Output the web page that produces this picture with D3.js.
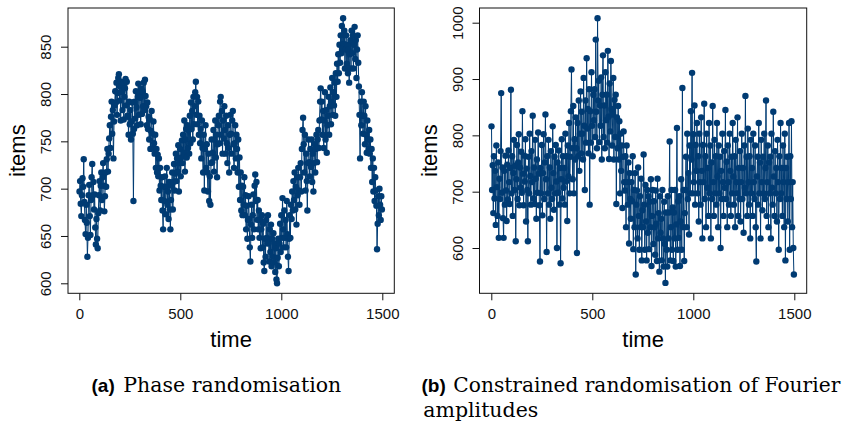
<!DOCTYPE html>
<html>
<head>
<meta charset="utf-8">
<script src="https://cdn.jsdelivr.net/npm/d3@7"></script>
<style>
  body { margin: 0; background: #fff; }
  svg { display: block; font-family: "Liberation Sans", Arial, Helvetica, sans-serif; }
  .serif { font-family: "DejaVu Serif", "Liberation Serif", serif; }
</style>
</head>
<body>
<svg width="843" height="423"></svg>
<script>
// sampled every 3 time steps, starting at t = 1
const timeStep = 3;

// (a) phase randomisation
const phaseItems = [
  697, 708, 684, 671, 693, 711, 702, 731, 686, 667,
  652, 683, 664, 628, 648, 693, 704, 671, 651, 688,
  712, 726, 693, 707, 678, 694, 659, 641, 668, 647,
  637, 674, 693, 708, 677, 703, 717, 688, 712, 727,
  703, 676, 692, 717, 702, 731, 742, 718, 737, 753,
  767, 743, 776, 792, 758, 783, 732, 771, 788, 803,
  791, 812, 778, 801, 817, 821, 793, 808, 772, 813,
  802, 783, 811, 773, 797, 806, 816, 788, 813, 777,
  776, 757, 792, 768, 783, 752, 771, 791, 758, 687,
  763, 792, 774, 803, 786, 767, 797, 811, 778, 802,
  796, 768, 806, 779, 803, 787, 812, 783, 815, 798,
  787, 767, 791, 763, 776, 752, 773, 742, 761, 782,
  758, 743, 771, 748, 737, 757, 722, 742, 717, 736,
  713, 732, 698, 722, 703, 688, 712, 677, 657, 702,
  687, 713, 673, 702, 722, 683, 697, 668, 707, 678,
  657, 688, 703, 717, 678, 707, 726, 698, 716, 737,
  708, 732, 718, 746, 697, 727, 742, 713, 733, 751,
  727, 757, 738, 772, 718, 752, 763, 733, 767, 743,
  762, 737, 777, 748, 791, 763, 782, 752, 797, 768,
  787, 802, 813, 778, 797, 768, 792, 757, 777, 748,
  763, 732, 772, 743, 717, 757, 698, 742, 767, 722,
  747, 717, 697, 737, 687, 713, 683, 727, 752, 728,
  738, 762, 718, 752, 772, 733, 757, 712, 747, 767,
  777, 748, 792, 797, 757, 782, 737, 772, 753, 787,
  762, 737, 777, 748, 727, 767, 743, 717, 757, 778,
  758, 737, 772, 782, 747, 722, 748, 767, 732, 757,
  742, 717, 752, 702, 733, 688, 717, 677, 703, 672,
  702, 683, 712, 672, 693, 657, 682, 647, 667, 692,
  668, 638, 623, 662, 683, 648, 672, 694, 657, 703,
  715, 687, 707, 667, 688, 657, 677, 648, 667, 637,
  657, 672, 638, 663, 622, 613, 647, 628, 667, 648,
  642, 672, 643, 623, 657, 633, 662, 618, 647, 628,
  653, 622, 642, 612, 637, 604, 600, 627, 647, 618,
  642, 663, 633, 672, 648, 690, 657, 638, 677, 648,
  667, 638, 687, 652, 628, 613, 647, 672, 648, 683,
  668, 697, 677, 708, 688, 717, 678, 702, 662, 712,
  693, 722, 698, 683, 712, 727, 697, 742, 762, 775,
  747, 717, 757, 698, 737, 708, 677, 727, 752, 728,
  713, 742, 723, 752, 707, 737, 697, 727, 747, 717,
  742, 757, 728, 752, 762, 743, 772, 792, 806, 773,
  792, 757, 782, 743, 772, 802, 752, 783, 738, 767,
  777, 797, 757, 787, 807, 768, 792, 817, 778, 802,
  788, 812, 777, 822, 797, 832, 813, 842, 822, 852,
  833, 862, 843, 872, 848, 880, 853, 867, 827, 847,
  862, 832, 852, 822, 847, 812, 842, 857, 827, 867,
  843, 862, 827, 852, 871, 837, 857, 817, 847, 862,
  833, 808, 778, 732, 792, 767, 802, 777, 758, 792,
  777, 747, 787, 757, 738, 772, 752, 742, 762, 737,
  752, 722, 742, 707, 732, 697, 722, 687, 712, 698,
  682, 636, 663, 692, 672, 700, 683, 667, 692, 678
];

// (b) constrained randomisation of Fourier amplitudes
const fourierItems = [
  816, 703, 747, 662, 763, 688, 737, 641, 782, 708,
  657, 752, 618, 723, 687, 772, 875, 698, 743, 653,
  618, 737, 677, 764, 702, 648, 748, 686, 773, 717,
  678, 742, 881, 697, 763, 657, 733, 792, 703, 746,
  612, 722, 783, 687, 752, 802, 676, 743, 707, 771,
  698, 843, 732, 676, 764, 718, 793, 647, 741, 703,
  612, 762, 697, 803, 728, 677, 772, 717, 835, 688,
  743, 678, 792, 723, 652, 757, 698, 805, 732, 676,
  576, 742, 697, 783, 658, 733, 802, 687, 752, 837,
  722, 593, 763, 697, 792, 677, 743, 652, 772, 707,
  687, 816, 733, 668, 762, 697, 783, 718, 600, 752,
  698, 773, 677, 742, 573, 722, 793, 688, 763, 707,
  742, 677, 803, 718, 763, 648, 782, 727, 822, 697,
  762, 843, 917, 777, 722, 852, 697, 793, 757, 832,
  777, 591, 822, 763, 862, 737, 803, 878, 768, 842,
  803, 757, 902, 817, 703, 862, 787, 937, 812, 847,
  768, 882, 677, 843, 787, 912, 817, 763, 872, 827,
  882, 797, 970, 842, 777, 1008, 862, 897, 788, 853,
  817, 903, 757, 872, 942, 797, 853, 777, 912, 827,
  872, 787, 950, 833, 758, 892, 807, 932, 847, 782,
  837, 902, 757, 863, 797, 872, 678, 832, 777, 852,
  757, 825, 697, 803, 737, 782, 671, 762, 807, 717,
  702, 763, 637, 782, 717, 677, 752, 608, 733, 687,
  652, 717, 683, 763, 598, 703, 637, 733, 553, 677,
  702, 617, 743, 657, 597, 692, 637, 723, 578, 667,
  637, 766, 677, 597, 712, 647, 578, 703, 627, 692,
  598, 682, 637, 722, 568, 657, 703, 607, 683, 637,
  588, 702, 643, 577, 723, 617, 662, 558, 692, 627,
  652, 578, 703, 617, 567, 682, 607, 538, 663, 597,
  567, 692, 617, 663, 789, 578, 637, 703, 597, 672,
  577, 663, 617, 703, 567, 642, 813, 597, 683, 618,
  692, 568, 647, 722, 597, 884, 637, 703, 577, 662,
  703, 762, 637, 803, 687, 733, 624, 782, 697, 843,
  757, 911, 697, 802, 717, 853, 677, 783, 737, 822,
  697, 763, 647, 803, 717, 677, 832, 737, 617, 783,
  717, 856, 687, 763, 637, 803, 707, 742, 657, 822,
  697, 782, 617, 752, 687, 852, 717, 657, 792, 697,
  763, 677, 822, 727, 637, 782, 697, 762, 600, 737,
  687, 803, 717, 657, 772, 707, 845, 687, 753, 637,
  782, 717, 677, 803, 737, 657, 762, 697, 822, 727,
  677, 763, 637, 792, 717, 697, 832, 657, 742, 687,
  772, 647, 717, 803, 687, 742, 627, 782, 707, 870,
  697, 762, 657, 812, 717, 677, 763, 617, 792, 697,
  742, 657, 803, 717, 687, 782, 637, 576, 727, 762,
  677, 822, 697, 752, 617, 792, 717, 667, 762, 697,
  803, 687, 742, 862, 657, 717, 782, 637, 752, 697,
  762, 617, 803, 707, 677, 842, 727, 657, 772, 697,
  742, 647, 792, 717, 597, 763, 687, 822, 697, 742,
  657, 782, 717, 637, 803, 578, 742, 687, 762, 647,
  717, 822, 597, 763, 687, 825, 637, 717, 600, 553
];

const timeTicks = [0, 500, 1000, 1500];
const phaseTicks = [600, 650, 700, 750, 800, 850];
const fourierTicks = [600, 700, 800, 900, 1000];

const col = "#003b73";
const svg = d3.select("svg");

function panel(opt) {
  const { values, yTicks, box, xr, yDom, yr } = opt;
  const g = svg.append("g");
  const x = d3.scaleLinear([0, 1500], xr);
  const y = d3.scaleLinear(yDom, yr);
  const pts = values.map((v, i) => [1 + i * timeStep, v]);

  // series: line + points
  g.append("path")
    .attr("d", d3.line().x(d => x(d[0])).y(d => y(d[1]))(pts))
    .attr("fill", "none")
    .attr("stroke", col)
    .attr("stroke-width", 1);
  g.selectAll("circle")
    .data(pts)
    .enter().append("circle")
      .attr("cx", d => x(d[0]))
      .attr("cy", d => y(d[1]))
      .attr("r", 3.2)
      .attr("fill", col);

  // box
  g.append("rect")
    .attr("x", box.x0).attr("y", box.y0)
    .attr("width", box.x1 - box.x0).attr("height", box.y1 - box.y0)
    .attr("fill", "none").attr("stroke", "#111").attr("stroke-width", 1);

  // axes
  const xa = g.append("g")
    .attr("transform", `translate(0,${box.y1})`)
    .call(d3.axisBottom(x).tickValues(timeTicks).tickFormat(d3.format("d")).tickSize(7).tickSizeOuter(0));
  xa.selectAll("text").attr("y", 26).attr("dy", 0);

  const ya = g.append("g")
    .attr("transform", `translate(${box.x0},0)`)
    .call(d3.axisLeft(y).tickValues(yTicks).tickFormat(d3.format("d")).tickSize(7).tickSizeOuter(0));
  ya.selectAll("text")
    .attr("x", null).attr("dy", 0)
    .attr("text-anchor", "middle")
    .attr("transform", "translate(-17,0) rotate(-90)");

  [xa, ya].forEach(a => {
    a.select(".domain").remove();
    a.selectAll("line").attr("stroke", "#111");
    a.selectAll("text").attr("fill", "#111")
      .style("font-size", "15px").style("font-family", "'Liberation Sans', Arial, sans-serif");
  });

  // axis titles
  g.append("text")
    .attr("x", (box.x0 + box.x1) / 2).attr("y", 346.5)
    .attr("text-anchor", "middle")
    .style("font-size", "22px")
    .text("time");
  g.append("text")
    .attr("transform", `translate(${box.x0 - 43},${(box.y0 + box.y1) / 2}) rotate(-90)`)
    .attr("text-anchor", "middle")
    .style("font-size", "22px")
    .text("items");
}

panel({
  values: phaseItems, yTicks: phaseTicks,
  box: { x0: 68, x1: 394.3, y0: 8, y1: 293.3 },
  xr: [79.3, 382.3], yDom: [600, 850], yr: [283.3, 46.7]
});
panel({
  values: fourierItems, yTicks: fourierTicks,
  box: { x0: 479.5, x1: 806.7, y0: 8, y1: 293.3 },
  xr: [491.3, 794.3], yDom: [600, 1000], yr: [248, 22.7]
});

// sub captions: bold sans tag + serif text
function tag(x, y, s) {
  svg.append("text").attr("x", x).attr("y", y)
    .style("font-size", "19px").style("font-weight", "bold")
    .text(s);
}
function serif(x, y, s, len) {
  svg.append("text").attr("class", "serif").attr("x", x).attr("y", y)
    .attr("textLength", len).attr("lengthAdjust", "spacingAndGlyphs")
    .style("font-size", "20px")
    .text(s);
}
tag(91.5, 391.7, "(a)");
serif(123.3, 391.7, "Phase randomisation", 218);
tag(421.5, 391.7, "(b)");
serif(453.3, 391.7, "Constrained randomisation of Fourier", 387);
serif(423.3, 416.5, "amplitudes", 115);
</script>
</body>
</html>
